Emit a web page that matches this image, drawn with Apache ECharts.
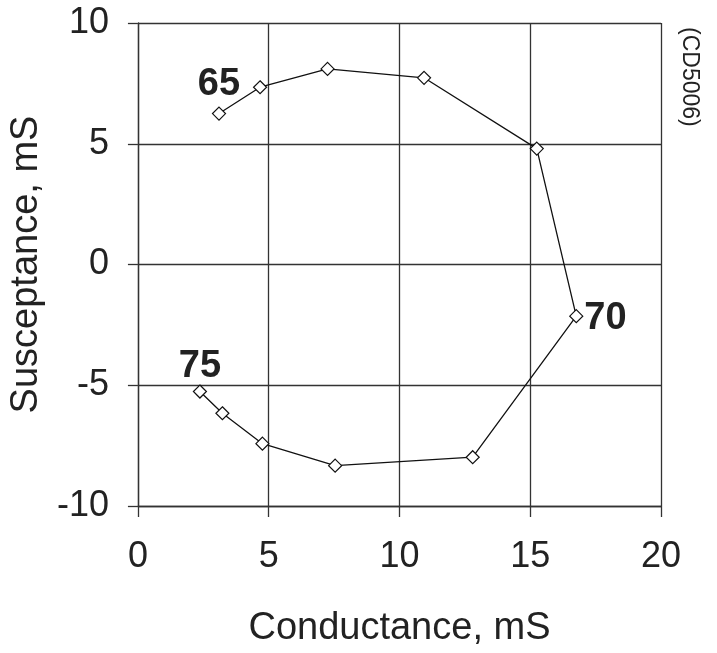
<!DOCTYPE html>
<html>
<head>
<meta charset="utf-8">
<script src="https://cdn.jsdelivr.net/npm/echarts@6/dist/echarts.min.js"></script>
<style>html,body{margin:0;padding:0;background:#fff;}#c{width:717px;height:653px;}</style>
</head>
<body>
<div id="c"></div>
<script>
var conductance = [3.1, 4.67, 7.25, 10.94, 15.25, 16.76, 12.8, 7.54, 4.76, 3.23, 2.37];
var susceptance = [6.25, 7.34, 8.1, 7.73, 4.8, -2.14, -7.98, -8.33, -7.42, -6.16, -5.26];
var pointLabels = ['65', '', '', '', '', '70', '', '', '', '', '75'];
var xTicks = [0, 5, 10, 15, 20];
var yTicks = [-10, -5, 0, 5, 10];

var FONT = '"Liberation Sans", Arial, sans-serif';
var labelPos = {'65': {position: 'top', distance: 3}, '70': {position: 'right', distance: 1, offset: [0, 2]}, '75': {position: 'top', distance: -1}};
var data = conductance.map(function (x, i) {
  var item = {value: [x, susceptance[i]]};
  var t = pointLabels[i];
  if (t) {
    item.label = {show: true, formatter: t, position: labelPos[t].position, distance: labelPos[t].distance,
      offset: labelPos[t].offset || [0, 0],
      fontSize: 38, fontWeight: 'bold', color: '#222', fontFamily: FONT};
  }
  return item;
});

var chart = echarts.init(document.getElementById('c'), null, {renderer: 'canvas'});
chart.setOption({
  backgroundColor: '#fff',
  animation: false,
  grid: {left: 137, right: 56, top: 23, bottom: 145, containLabel: false},
  xAxis: {
    type: 'value', min: xTicks[0], max: xTicks[xTicks.length - 1], interval: 5,
    name: 'Conductance, mS', nameLocation: 'middle', nameGap: 104,
    nameTextStyle: {fontSize: 38, color: '#222', fontFamily: FONT},
    axisLine: {show: true, onZero: false, lineStyle: {color: '#333', width: 1.3}},
    axisTick: {show: true, length: 11, lineStyle: {color: '#333', width: 1.3}},
    axisLabel: {fontSize: 36, color: '#222', fontFamily: FONT, margin: 33},
    splitLine: {show: true, lineStyle: {color: '#333', width: 1.3}}
  },
  yAxis: {
    type: 'value', min: yTicks[0], max: yTicks[yTicks.length - 1], interval: 5,
    name: 'Susceptance, mS', nameLocation: 'middle', nameGap: 85,
    nameTextStyle: {fontSize: 38, color: '#222', fontFamily: FONT},
    axisLine: {show: true, onZero: false, lineStyle: {color: '#333', width: 1.3}},
    axisTick: {show: true, length: 10, lineStyle: {color: '#333', width: 1.3}},
    axisLabel: {fontSize: 36, color: '#222', fontFamily: FONT, margin: 29},
    splitLine: {show: true, lineStyle: {color: '#333', width: 1.3}}
  },
  series: [{
    type: 'line',
    data: data,
    symbol: 'diamond',
    symbolSize: 13,
    showAllSymbol: true,
    lineStyle: {color: '#111', width: 1.3},
    itemStyle: {color: '#fff', borderColor: '#111', borderWidth: 1.2},
    z: 5
  }],
  graphic: [{
    type: 'text', left: 678, top: 27,
    rotation: -Math.PI / 2,
    style: {text: '(CD5006)', fontSize: 23, fill: '#222', fontFamily: FONT}
  }]
});
</script>
</body>
</html>
